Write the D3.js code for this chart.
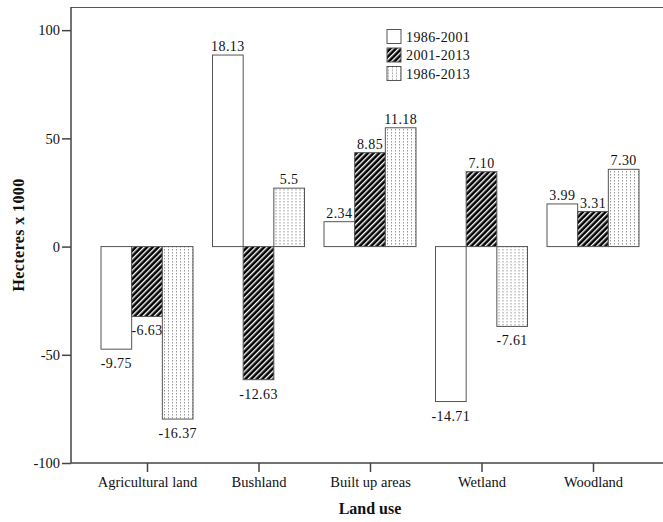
<!DOCTYPE html>
<html>
<head>
<meta charset="utf-8">
<script src="https://cdn.jsdelivr.net/npm/d3@7"></script>
<style>
  body { margin: 0; background: #fff; }
  text { font-family: "Liberation Serif", "Times New Roman", serif; fill: #111; }
</style>
</head>
<body>
<svg width="663" height="522"></svg>
<script>
// land use categories
let categories = ["Agricultural land", "Bushland", "Built up areas", "Wetland", "Woodland"];
let series = ["1986-2001", "2001-2013", "1986-2013"];

// bar heights (hectares x 1000)
let values1986_2001 = [-47.4, 88.5, 11.5, -71.6, 19.7];
let values2001_2013 = [-32.3, -61.5, 43.4, 34.6, 16.2];
let values1986_2013 = [-79.7, 27.0, 54.9, -36.9, 35.7];

// printed labels (percent)
let labels1986_2001 = ["-9.75", "18.13", "2.34", "-14.71", "3.99"];
let labels2001_2013 = ["-6.63", "-12.63", "8.85", "7.10", "3.31"];
let labels1986_2013 = ["-16.37", "5.5", "11.18", "-7.61", "7.30"];

let yTicks = [-100, -50, 0, 50, 100];

let allValues = [values1986_2001, values2001_2013, values1986_2013];
let allLabels = [labels1986_2001, labels2001_2013, labels1986_2013];

let svg = d3.select("svg"),
    width = +svg.attr("width"),
    height = +svg.attr("height");

let plotLeft = 71, plotTop = 7, plotBottom = 463;

let defs = svg.append("defs");
// hatch pattern
let hatch = defs.append("pattern")
    .attr("id", "hatch")
    .attr("patternUnits", "userSpaceOnUse")
    .attr("width", 4).attr("height", 4)
    .attr("patternTransform", "rotate(45)");
hatch.append("rect").attr("width", 4).attr("height", 4).attr("fill", "#000");
hatch.append("rect").attr("x", 0).attr("width", 1.4).attr("height", 4).attr("fill", "#fff");
// dotted pattern
let dots = defs.append("pattern")
    .attr("id", "dots")
    .attr("patternUnits", "userSpaceOnUse")
    .attr("width", 4).attr("height", 3);
dots.append("rect").attr("width", 4).attr("height", 3).attr("fill", "#fff");
dots.append("rect").attr("x", 1).attr("y", 0).attr("width", 1).attr("height", 1.5).attr("fill", "#999");

let fills = ["#fff", "url(#hatch)", "url(#dots)"];

let x = d3.scalePoint()
    .domain(categories)
    .range([147, 593]);

let xSub = d3.scaleBand()
    .domain(series)
    .range([-46, 46]);

let y = d3.scaleLinear()
    .domain([-100, 110.7])
    .range([plotBottom, plotTop]);

// frame top line
svg.append("line")
    .attr("x1", plotLeft).attr("x2", width)
    .attr("y1", plotTop + 0.5).attr("y2", plotTop + 0.5)
    .attr("stroke", "#555").attr("stroke-width", 1.2);

// bars
let groups = svg.append("g").selectAll("g")
    .data(categories)
    .enter().append("g")
    .attr("transform", function(d) { return "translate(" + x(d) + ",0)"; });

groups.each(function(cat, i) {
  let g = d3.select(this);
  series.forEach(function(s, j) {
    let v = allValues[j][i];
    g.append("rect")
      .attr("x", xSub(s))
      .attr("width", xSub.bandwidth())
      .attr("y", v >= 0 ? y(v) : y(0))
      .attr("height", Math.abs(y(v) - y(0)))
      .attr("fill", fills[j])
      .attr("stroke", "#555")
      .attr("stroke-width", 1);
    g.append("text")
      .attr("x", xSub(s) + xSub.bandwidth() / 2)
      .attr("y", v >= 0 ? y(v) - 4 : y(v) + 19)
      .attr("text-anchor", "middle")
      .style("font-size", "14px")
      .style("letter-spacing", "0.4px")
      .text(allLabels[j][i]);
  });
});

// y axis
let yAxis = svg.append("g")
    .attr("transform", "translate(" + plotLeft + ",0)")
    .call(d3.axisLeft(y).tickValues(yTicks).tickFormat(function(d) { return String(d); })
      .tickSize(9).tickPadding(2));
yAxis.select(".domain").attr("d", "M0," + plotTop + "V" + plotBottom);
yAxis.selectAll("line, path").attr("stroke", "#444").attr("stroke-width", 1.5);
yAxis.selectAll("text")
    .style("font-family", "Liberation Serif, serif")
    .style("font-size", "14.5px")
    .attr("fill", "#222");

// x axis
let xAxis = svg.append("g")
    .attr("transform", "translate(0," + plotBottom + ")")
    .call(d3.axisBottom(x).tickSize(9).tickPadding(5));
xAxis.select(".domain").attr("d", "M" + plotLeft + ",0H" + width);
xAxis.selectAll("line, path").attr("stroke", "#444").attr("stroke-width", 1.5);
xAxis.selectAll("text")
    .style("font-family", "Liberation Serif, serif")
    .style("font-size", "14.5px")
    .attr("fill", "#222");

// axis titles
svg.append("text")
    .attr("transform", "translate(24,235) rotate(-90)")
    .attr("text-anchor", "middle")
    .style("font-size", "16px")
    .style("font-weight", "bold")
    .style("letter-spacing", "0.4px")
    .text("Hecteres x 1000");

svg.append("text")
    .attr("x", 370).attr("y", 514)
    .attr("text-anchor", "middle")
    .style("font-size", "16px")
    .style("font-weight", "bold")
    .text("Land use");

// legend
let legend = svg.append("g").selectAll("g")
    .data(series)
    .enter().append("g")
    .attr("transform", function(d, i) { return "translate(387," + (29.5 + i * 18.5) + ")"; });
legend.append("rect")
    .attr("width", 14).attr("height", 14)
    .attr("fill", function(d, i) { return fills[i]; })
    .attr("stroke", "#555");
legend.append("text")
    .attr("x", 19).attr("y", 12)
    .style("font-size", "14px")
    .style("letter-spacing", "0.4px")
    .text(function(d) { return d; });
</script>
</body>
</html>
